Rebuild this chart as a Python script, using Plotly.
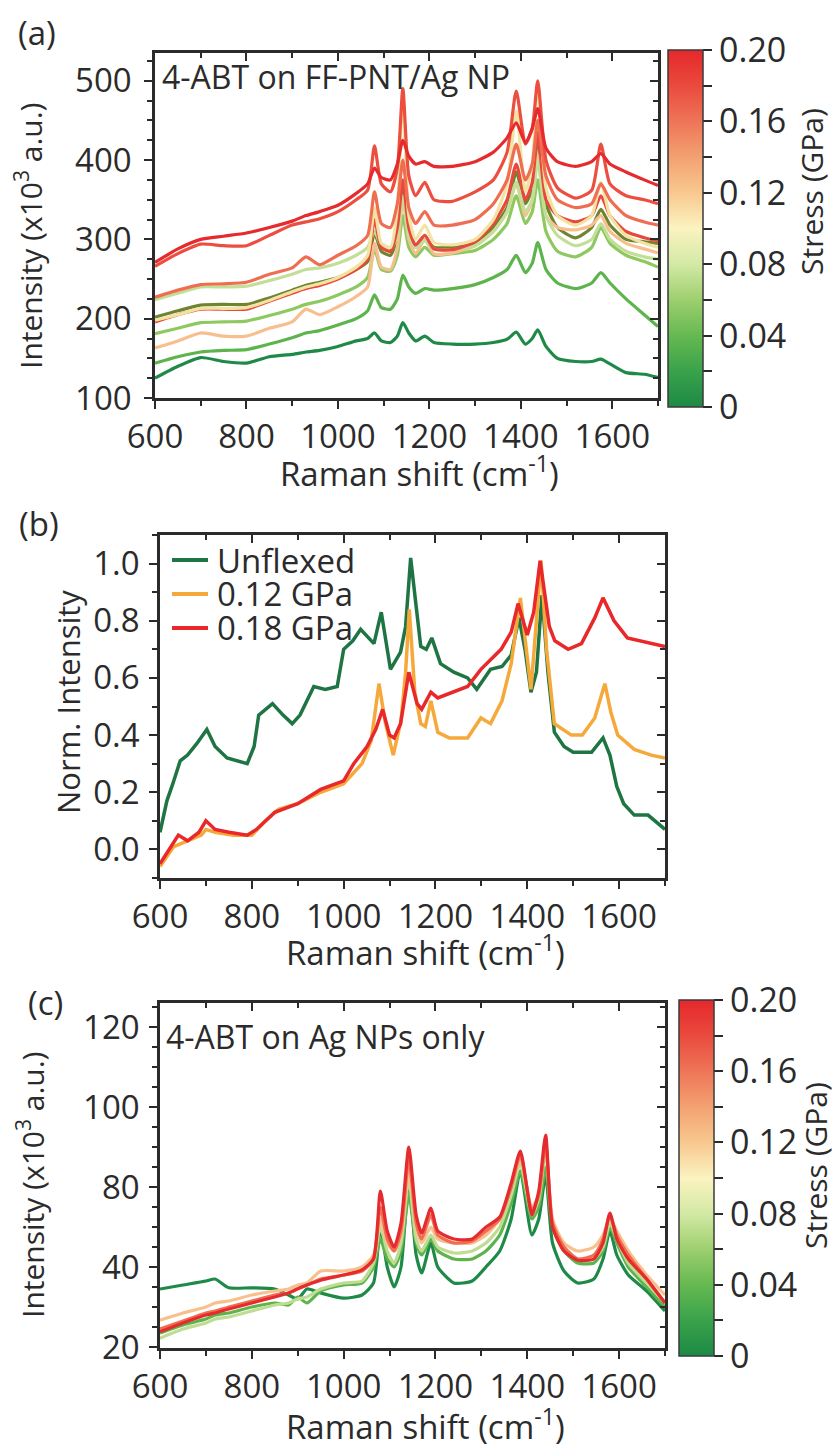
import plotly.graph_objects as go

W, H = 837, 1448
FONT = "Open Sans"
INK = "#2b2b2b"
FS = 33


def fx(p):
    return p / W


def fy(p):
    return 1 - p / H


# ---------------- (a) 4-ABT on FF-PNT/Ag NP ----------------
shift_a = [600, 650, 700, 750, 800, 850, 900, 930, 960, 1000,
           1040, 1065, 1080, 1095, 1115, 1130, 1142, 1155, 1170, 1190,
           1210, 1250, 1300, 1340, 1370, 1390, 1410, 1425, 1437, 1455,
           1480, 1520, 1555, 1575, 1595, 1630, 1670, 1700]

a_000 = [125, 140, 151, 146, 144, 152, 155, 158, 160, 165,
         172, 175, 182, 172, 170, 178, 195, 182, 172, 178,
         170, 168, 168, 170, 174, 183, 168, 175, 186, 165,
         150, 146, 146, 149, 143, 132, 130, 126]
a_004 = [144, 152, 158, 160, 161, 168, 176, 182, 185, 192,
         200, 210, 230, 214, 212, 225, 255, 240, 232, 238,
         236, 238, 243, 252, 262, 280, 258, 270, 296, 262,
         245, 238, 245, 258, 245, 225, 205, 190]
a_006 = [181, 188, 195, 196, 197, 204, 212, 218, 222, 230,
         240, 252, 288, 262, 260, 280, 330, 290, 278, 290,
         280, 282, 286, 300, 320, 355, 320, 335, 375, 310,
         285, 278, 290, 315, 295, 280, 272, 265]
a_008 = [224, 232, 240, 240, 241, 248, 256, 262, 264, 270,
         280, 290, 310, 292, 288, 305, 355, 305, 290, 298,
         288, 287, 292, 310, 335, 372, 335, 350, 400, 330,
         305, 292, 300, 320, 300, 285, 278, 275]
a_olive = [202, 210, 217, 218, 218, 226, 236, 242, 246, 252,
           262, 272, 308, 285, 280, 305, 372, 310, 290, 300,
           290, 290, 295, 315, 340, 385, 345, 365, 428, 345,
           315, 302, 315, 338, 318, 300, 297, 295]
a_010 = [198, 205, 213, 213, 214, 223, 234, 240, 244, 252,
         265, 280, 340, 295, 290, 340, 485, 330, 300, 318,
         296, 293, 300, 325, 370, 462, 360, 395, 495, 365,
         330, 318, 330, 372, 330, 305, 295, 290]
a_012 = [163, 172, 182, 178, 178, 188, 196, 212, 205, 215,
         228, 240, 295, 265, 262, 290, 350, 300, 282, 300,
         282, 283, 292, 310, 335, 370, 330, 350, 405, 330,
         315, 312, 318, 330, 310, 295, 288, 283]
a_014 = [227, 236, 243, 244, 246, 256, 264, 278, 268, 280,
         292, 305, 360, 320, 315, 345, 400, 340, 320, 335,
         318, 318, 325, 345, 375, 420, 375, 395, 450, 380,
         350, 340, 345, 370, 350, 330, 322, 318]
a_016 = [196, 205, 212, 212, 212, 222, 232, 238, 242, 250,
         262, 275, 325, 290, 285, 315, 375, 315, 293, 305,
         288, 287, 297, 320, 350, 395, 350, 372, 435, 350,
         330, 322, 330, 355, 330, 310, 302, 298]
a_018 = [266, 282, 294, 292, 292, 305, 318, 322, 326, 335,
         350, 362, 418, 370, 360, 390, 490, 380, 355, 372,
         350, 348, 360, 375, 410, 487, 420, 440, 500, 400,
         365, 352, 362, 420, 370, 355, 350, 345]
a_020 = [271, 288, 300, 304, 308, 315, 323, 330, 335, 343,
         358, 370, 390, 378, 375, 395, 425, 405, 395, 398,
         392, 392, 398, 410, 428, 447, 422, 440, 465, 415,
         398, 392, 398, 408, 395, 385, 375, 368]

a_series = [a_000, a_004, a_006, a_olive, a_012, a_008, a_016, a_010,
            a_014, a_018, a_020]
a_names = ["0 GPa", "0.04 GPa", "0.06 GPa", "0.02 GPa", "0.12 GPa", "0.08 GPa",
           "0.16 GPa", "0.10 GPa", "0.14 GPa", "0.18 GPa", "0.20 GPa"]
a_colors = ["#1f8a47", "#5db44c", "#8dc860", "#6e8430", "#f8bf8e", "#c3df97",
            "#e9493c", "#f3e3a2", "#ef6e52", "#ec4f3f", "#e52b2d"]

# ---------------- (b) normalized spectra ----------------
b_unflexed_x = [600, 615, 628, 644, 660, 680, 702, 720, 746, 770, 790, 805, 815,
                845, 868, 888, 905, 935, 960, 986, 1000, 1020, 1037, 1066, 1082,
                1102, 1124, 1135, 1146, 1158, 1168, 1180, 1192, 1211, 1240, 1270,
                1290, 1320, 1345, 1365, 1382, 1395, 1408, 1420, 1432, 1445, 1459,
                1480, 1500, 1540, 1565, 1580, 1595, 1610, 1633, 1663, 1700]
b_unflexed_y = [0.06, 0.17, 0.23, 0.31, 0.33, 0.37, 0.42, 0.36, 0.32, 0.31, 0.30,
                0.36, 0.47, 0.51, 0.47, 0.44, 0.47, 0.57, 0.56, 0.57, 0.70, 0.73,
                0.77, 0.72, 0.83, 0.63, 0.69, 0.78, 1.02, 0.85, 0.71, 0.70, 0.74,
                0.65, 0.62, 0.60, 0.56, 0.63, 0.64, 0.68, 0.81, 0.70, 0.55, 0.62,
                0.89, 0.62, 0.41, 0.36, 0.34, 0.34, 0.39, 0.33, 0.22, 0.16, 0.12,
                0.12, 0.07]
b_012_x = [600, 630, 660, 690, 700, 720, 760, 800, 830, 858, 900, 950, 1000,
           1040, 1060, 1077, 1090, 1108, 1125, 1135, 1143, 1155, 1168, 1178,
           1190, 1205, 1230, 1270, 1299, 1320, 1345, 1365, 1385, 1397, 1408,
           1420, 1430, 1442, 1459, 1496, 1520, 1547, 1569, 1582, 1597, 1633,
           1670, 1700]
b_012_y = [-0.06, 0.01, 0.03, 0.05, 0.07, 0.06, 0.05, 0.05, 0.10, 0.14, 0.16,
           0.20, 0.23, 0.30, 0.38, 0.58, 0.45, 0.33, 0.45, 0.62, 0.84, 0.55,
           0.44, 0.43, 0.52, 0.41, 0.39, 0.39, 0.46, 0.44, 0.52, 0.65, 0.88,
           0.70, 0.56, 0.80, 1.01, 0.70, 0.44, 0.40, 0.40, 0.46, 0.58, 0.48,
           0.40, 0.35, 0.33, 0.32]
b_018_x = [600, 620, 640, 660, 685, 700, 720, 750, 790, 810, 850, 900, 950,
           1000, 1022, 1051, 1070, 1085, 1100, 1110, 1124, 1142, 1160, 1170,
           1190, 1205, 1240, 1270, 1299, 1343, 1365, 1380, 1400, 1414, 1428,
           1448, 1460, 1489, 1518, 1547, 1565, 1589, 1618, 1647, 1700]
b_018_y = [-0.05, 0.00, 0.05, 0.03, 0.06, 0.10, 0.07, 0.06, 0.05, 0.07, 0.13,
           0.16, 0.21, 0.24, 0.30, 0.36, 0.42, 0.49, 0.40, 0.39, 0.44, 0.62,
           0.51, 0.49, 0.55, 0.53, 0.55, 0.57, 0.63, 0.70, 0.76, 0.86, 0.75,
           0.83, 1.01, 0.78, 0.73, 0.70, 0.72, 0.81, 0.88, 0.80, 0.74, 0.73,
           0.71]
b_names = ["Unflexed", "0.12 GPa", "0.18 GPa"]
b_colors = ["#1e7543", "#f6a93b", "#e8282a"]
b_series = [(b_unflexed_x, b_unflexed_y), (b_012_x, b_012_y), (b_018_x, b_018_y)]

# ---------------- (c) 4-ABT on Ag NPs only ----------------
shift_c = [600, 650, 700, 720, 750, 800, 850, 880, 900, 920,
           950, 1000, 1040, 1065, 1080, 1095, 1110, 1125, 1142, 1158,
           1170, 1190, 1205, 1240, 1280, 1310, 1340, 1365, 1385, 1410,
           1425, 1440, 1455, 1480, 1510, 1545, 1565, 1580, 1595, 1620,
           1660, 1700]
c_000 = [34.5, 35.5, 36.5, 37, 34.8, 34.8, 34.5, 33, 32, 34.5,
         33.5, 32.2, 33, 36, 50, 40, 35, 40, 62, 43,
         38.5, 46, 40, 36, 36.5, 40, 44, 52, 64, 48,
         52, 63, 46, 39, 36, 37, 42, 49, 43, 38,
         34, 29]
c_004 = [23.5, 25.5, 27, 28, 28.5, 30, 31, 30.5, 32.5, 31,
         34, 35.5, 36, 40, 47, 42, 40, 44, 58, 46,
         43, 47, 44, 42, 42, 44, 48, 56, 64, 52,
         55, 65, 50, 44, 41, 41, 44, 50, 46, 40,
         35, 30]
c_008 = [22.2, 24.5, 26, 27, 27.5, 29, 30.5, 31, 32, 32.5,
         34.5, 36, 36.5, 41, 50, 44, 41, 46, 62, 47,
         44, 48, 45, 43.5, 44, 46, 50, 58, 66, 53,
         57, 69, 51, 45, 42, 42, 45, 51, 47, 41,
         36, 31]
c_012 = [26.7, 28.5, 30, 31, 31.5, 33, 34, 34.5, 35.5, 36,
         39, 39, 40, 43, 52, 46, 44, 48, 64, 50,
         46, 50, 47, 46, 46, 48, 52, 60, 67, 55,
         58, 71, 52, 46, 44, 45, 48, 52, 49, 44,
         38, 33]
c_016 = [24.5, 26.5, 28.5, 29, 30, 31.5, 33, 33.5, 34.5, 35.5,
         37, 38, 39, 42, 55, 47, 44, 49, 67, 51,
         47, 53, 48, 46, 46.5, 49, 52, 60, 68, 54,
         58, 71, 51, 45, 42, 43, 47, 53, 48, 43,
         37, 31]
c_020 = [23.8, 26, 28, 28.5, 29.5, 31, 32.5, 33.5, 34.6, 35.5,
         36.7, 38, 39.3, 42, 59, 49, 45, 51, 70, 53,
         48.5, 54.7, 49, 47, 47, 50, 52.5, 61, 69, 53,
         59, 73, 50, 44, 41.7, 42, 46, 53.5, 47, 42,
         37, 31]
c_series = [c_000, c_004, c_008, c_012, c_016, c_020]
c_names = ["0 GPa", "0.04 GPa", "0.08 GPa", "0.12 GPa", "0.16 GPa", "0.20 GPa"]
c_colors = ["#1f8a47", "#5db44c", "#bfdc93", "#f8c08d", "#ef6e52", "#e52b2d"]
c_tickvals = [20, 40, 60, 80, 100]
c_ticktext = ["20", "40", "80", "100", "120"]

# stress colour scale (GPa)
stress_scale = [[0.0, "#1d8a45"], [0.1, "#39a24b"], [0.2, "#66b951"],
                [0.3, "#9dcf6e"], [0.4, "#d3e9a5"], [0.5, "#fbf3c0"],
                [0.6, "#f8c88f"], [0.7, "#f3a171"], [0.8, "#ee7558"],
                [0.9, "#ea4a3d"], [1.0, "#e5282c"]]
cbar_vals = [0, 0.02, 0.04, 0.06, 0.08, 0.10, 0.12, 0.14, 0.16, 0.18, 0.20]
cbar_text = ["0", " ", "0.04", " ", "0.08", " ", "0.12", " ", "0.16", " ", "0.20"]

fig = go.Figure()

for ys, nm, col in zip(a_series, a_names, a_colors):
    fig.add_trace(go.Scatter(x=shift_a, y=ys, name=nm, mode="lines",
                             line=dict(color=col, width=3.2, shape="spline", smoothing=0.6),
                             xaxis="x", yaxis="y", showlegend=False))

for (xs, ys), nm, col in zip(b_series, b_names, b_colors):
    fig.add_trace(go.Scatter(x=xs, y=ys, name=nm, mode="lines",
                             line=dict(color=col, width=3.5),
                             xaxis="x2", yaxis="y2", showlegend=False))

for ys, nm, col in zip(c_series, c_names, c_colors):
    fig.add_trace(go.Scatter(x=shift_c, y=ys, name=nm, mode="lines",
                             line=dict(color=col, width=3.2, shape="spline", smoothing=0.6),
                             xaxis="x3", yaxis="y3", showlegend=False))

# empty traces that hold the mirrored (top/right) frame axes
for xa, ya in [("x4", "y4"), ("x5", "y5"), ("x6", "y6")]:
    fig.add_trace(go.Scatter(x=[None], y=[None], xaxis=xa, yaxis=ya,
                             showlegend=False, hoverinfo="skip"))


def colorbar_trace(xa, ya, left, top, bottom):
    return go.Scatter(
        x=[None], y=[None], mode="markers", xaxis=xa, yaxis=ya, showlegend=False,
        hoverinfo="skip",
        marker=dict(color=[0], cmin=0, cmax=0.2, colorscale=stress_scale, showscale=True,
                    colorbar=dict(x=fx(left), xanchor="left", xpad=0,
                                  y=fy((top + bottom) / 2), yanchor="middle", ypad=0,
                                  len=bottom - top, lenmode="pixels", thickness=35,
                                  outlinewidth=1.5, outlinecolor="#3a3a3a",
                                  tickmode="array", tickvals=cbar_vals, ticktext=cbar_text,
                                  ticks="outside", ticklen=9, tickwidth=1.5,
                                  tickcolor=INK,
                                  tickfont=dict(family=FONT, size=34, color=INK))))


fig.add_trace(colorbar_trace("x", "y", 668, 50, 407))
fig.add_trace(colorbar_trace("x3", "y3", 679, 1000, 1356))

base = dict(showline=True, linecolor=INK, linewidth=2.5, showgrid=False, zeroline=False,
            automargin=False, tickcolor=INK, tickwidth=2.2,
            tickfont=dict(family=FONT, size=FS, color=INK))


def main_x(dom, anchor):
    return dict(base, domain=dom, anchor=anchor, range=[600, 1700], tickmode="linear",
                tick0=600, dtick=200, ticks="outside", ticklen=8,
                minor=dict(ticks="outside", ticklen=5, tickwidth=2, tickcolor=INK,
                           tickmode="linear", tick0=600, dtick=100))


def top_x(over, anchor):
    return dict(base, overlaying=over, anchor=anchor, side="top", range=[600, 1700],
                tickmode="linear", tick0=600, dtick=200, ticks="inside", ticklen=8,
                showticklabels=False,
                minor=dict(ticks="inside", ticklen=5, tickwidth=2, tickcolor=INK,
                           tickmode="linear", tick0=600, dtick=100))


def left_y(dom, anchor, rng, vals, texts, minor_vals, standoff):
    return dict(base, domain=dom, anchor=anchor, range=rng, tickmode="array",
                tickvals=vals, ticktext=texts, ticks="outside", ticklen=8,
                ticklabelstandoff=standoff,
                minor=dict(ticks="outside", ticklen=5, tickwidth=2, tickcolor=INK,
                           tickmode="array", tickvals=minor_vals))


def right_y(over, anchor, rng, vals, minor_vals):
    return dict(base, overlaying=over, anchor=anchor, side="right", range=rng,
                tickmode="array", tickvals=vals, ticks="inside", ticklen=8,
                showticklabels=False,
                minor=dict(ticks="inside", ticklen=5, tickwidth=2, tickcolor=INK,
                           tickmode="array", tickvals=minor_vals))


a_range = [100, 535]
a_ticks = [100, 200, 300, 400, 500]
a_minor = [v for v in range(100, 535, 25)]
b_range = [-0.1, 1.1]
b_ticks = [0.0, 0.2, 0.4, 0.6, 0.8, 1.0]
b_ticktext = ["0.0", "0.2", "0.4", "0.6", "0.8", "1.0"]
b_minor = [round(-0.1 + 0.1 * i, 2) for i in range(13)]
c_range = [19.75, 106]
c_minor = [v for v in range(20, 106, 5)]

dom_x_a = [fx(155), fx(658)]
dom_x_bc = [fx(160), fx(665)]

fig.update_layout(
    width=W, height=H, margin=dict(l=0, r=0, t=0, b=0, autoexpand=False),
    paper_bgcolor="white", plot_bgcolor="white",
    font=dict(family=FONT, size=FS, color=INK),
    showlegend=False,
    xaxis=main_x(dom_x_a, "y"),
    yaxis=left_y([fy(398), fy(53)], "x", a_range, a_ticks, [str(v) for v in a_ticks], a_minor, 6),
    xaxis4=top_x("x", "y"),
    yaxis4=right_y("y", "x", a_range, a_ticks, a_minor),
    xaxis2=main_x(dom_x_bc, "y2"),
    yaxis2=left_y([fy(878), fy(535)], "x2", b_range, b_ticks, b_ticktext, b_minor, 3),
    xaxis5=top_x("x2", "y2"),
    yaxis5=right_y("y2", "x2", b_range, b_ticks, b_minor),
    xaxis3=main_x(dom_x_bc, "y3"),
    yaxis3=left_y([fy(1348), fy(1003)], "x3", c_range, c_tickvals, c_ticktext, c_minor, 3),
    xaxis6=top_x("x3", "y3"),
    yaxis6=right_y("y3", "x3", c_range, c_tickvals, c_minor),
)


def text(s, x, y, xanchor="center", angle=0, size=FS):
    fig.add_annotation(text=s, x=fx(x), y=fy(y), xref="paper", yref="paper",
                       xanchor=xanchor, yanchor="middle", showarrow=False,
                       textangle=angle, font=dict(family=FONT, size=size, color=INK))


# panel letters
text("(a)", 37, 33)
text("(b)", 39, 523)
text("(c)", 45, 1002)

# in-plot captions
text("4-ABT on FF-PNT/Ag NP", 160, 77, xanchor="left", size=32)
text("4-ABT on Ag NPs only", 164, 1036, xanchor="left", size=32)

# axis titles
xt = "Raman shift (cm<sup>-1</sup>)"
text(xt, 420, 472)
text(xt, 425, 950)
text(xt, 425, 1424)
yt = "Intensity (x10<sup>3</sup> a.u.)"
text(yt, 29, 236, angle=-90, size=30)
text("Norm. Intensity", 68, 702, angle=-90, size=31)
text(yt, 31, 1185, angle=-90, size=30)

# colour bar titles
text("Stress (GPa)", 811, 192, angle=-90, size=30)
text("Stress (GPa)", 815, 1166, angle=-90, size=30)

# legend for (b)
for i, (nm, col) in enumerate(zip(b_names, b_colors)):
    yy = 560 + 34 * i
    fig.add_shape(type="line", xref="paper", yref="paper",
                  x0=fx(172), x1=fx(208), y0=fy(yy), y1=fy(yy),
                  line=dict(color=col, width=4))
    text(nm, 215, yy, xanchor="left")

fig.write_html("out.html")
